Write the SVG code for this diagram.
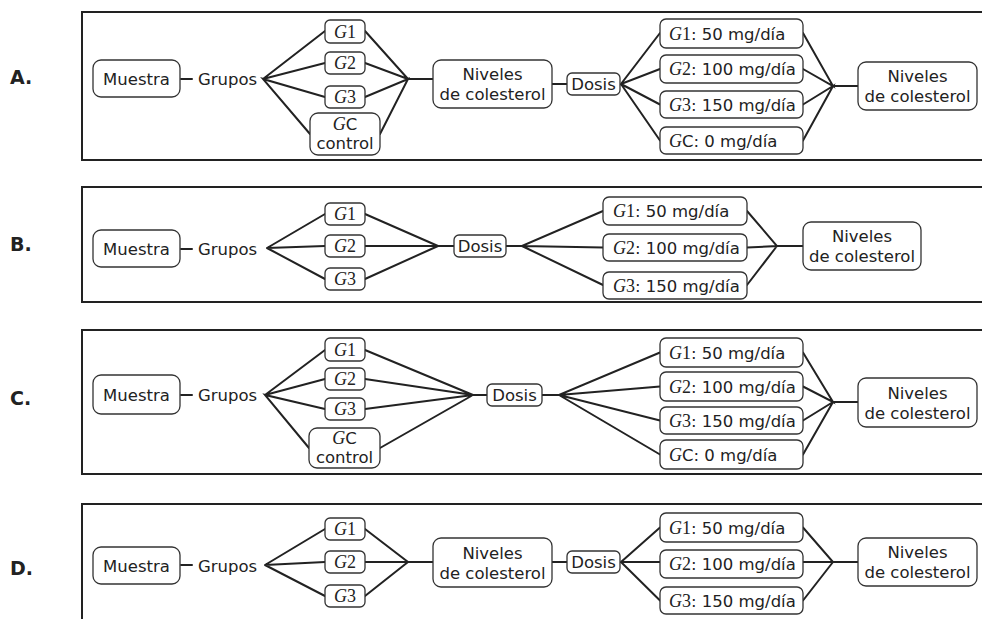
<svg xmlns="http://www.w3.org/2000/svg" width="982" height="619" viewBox="0 0 982 619">
<style>
.frame{fill:none;stroke:#222;stroke-width:2}
.box{fill:#fff;stroke:#333;stroke-width:1.3}
.ln{fill:none;stroke:#222;stroke-width:2;stroke-linecap:round}
.t{font-family:"DejaVu Sans",Verdana,sans-serif;font-size:16.5px;fill:#222}
.c{text-anchor:middle}
.gi{font-family:"Liberation Serif","Times New Roman",serif;font-style:italic;font-size:18px}
.sr{font-family:"Liberation Serif","Times New Roman",serif;font-size:18px}
.lbl{font-family:"DejaVu Sans",Verdana,sans-serif;font-weight:bold;font-size:19px;fill:#222}
</style>
<rect width="982" height="619" fill="#fff"/>
<g id="frames">
<path class="frame" d="M984 12H82V160H984"/>
<path class="frame" d="M984 187H82V302H984"/>
<path class="frame" d="M984 330H82V474H984"/>
<path class="frame" d="M984 504H82V622"/>
</g>
<g id="labels">
<text class="lbl" x="10" y="84">A.</text>
<text class="lbl" x="10" y="251">B.</text>
<text class="lbl" x="10" y="405">C.</text>
<text class="lbl" x="10" y="575">D.</text>
</g>
<g id="connectors">
<!-- A -->
<path class="ln" d="M181 79H192"/>
<path class="ln" d="M325 31L263 79L325 63M325 97L263 79L310 134"/>
<path class="ln" d="M365 31L408 79L365 63M365 97L408 79L380 134M408 79H433"/>
<path class="ln" d="M552 84H567"/>
<path class="ln" d="M660 33L621 84L660 69M660 104.5L621 84L660 140.5"/>
<path class="ln" d="M803 33L833 86L803 69M803 104.5L833 86L803 140.5M833 86H858"/>
<!-- B -->
<path class="ln" d="M181 249H192"/>
<path class="ln" d="M325 214L267 248L325 246M267 248L325 279"/>
<path class="ln" d="M365 214L438 246L365 246M438 246L365 279M438 246H454"/>
<path class="ln" d="M506 246H522L603 211M522 246L603 247.5M522 246L603 285"/>
<path class="ln" d="M747 211L777 246L747 247.5M777 246L747 285M777 246H803"/>
<!-- C -->
<path class="ln" d="M181 395H192"/>
<path class="ln" d="M325 350L265 395L325 379M325 409L265 395L309 448"/>
<path class="ln" d="M365 350L473 395L365 379M365 409L473 395L380 448M473 395H487"/>
<path class="ln" d="M542 395H559L660 352.5M559 395L660 386.5M559 395L660 420.5M559 395L660 454.5"/>
<path class="ln" d="M803 352.5L833 402L803 386.5M803 420.5L833 402L803 454.5M833 402H858"/>
<!-- D -->
<path class="ln" d="M181 565H192"/>
<path class="ln" d="M325 529L265 565L325 562M265 565L325 596"/>
<path class="ln" d="M365 529L408 562L365 562M408 562L365 596M408 562H433"/>
<path class="ln" d="M552 562H567"/>
<path class="ln" d="M660 527.5L621 562L660 562M621 562L660 600.5"/>
<path class="ln" d="M803 527.5L833 562L803 562M833 562L803 600.5M833 562H858"/>
</g>
<!-- Panel A nodes -->
<g id="a-muestra"><rect class="box" x="93" y="60" width="87" height="37" rx="8"/><text class="t c" x="136.5" y="85">Muestra</text></g>
<g id="a-grupos"><text class="t" x="198" y="85">Grupos</text></g>
<g id="a-g1"><rect class="box" x="325" y="20" width="40" height="23" rx="5"/><text class="t c" x="345" y="37.5"><tspan class="gi">G</tspan><tspan class="sr">1</tspan></text></g>
<g id="a-g2"><rect class="box" x="325" y="52" width="40" height="22" rx="5"/><text class="t c" x="345" y="69"><tspan class="gi">G</tspan><tspan class="sr">2</tspan></text></g>
<g id="a-g3"><rect class="box" x="325" y="86" width="40" height="22" rx="5"/><text class="t c" x="345" y="103"><tspan class="gi">G</tspan><tspan class="sr">3</tspan></text></g>
<g id="a-gc"><rect class="box" x="310" y="113" width="70" height="42" rx="8"/><text class="t c" x="345" y="130"><tspan class="gi">G</tspan>C</text><text class="t c" x="345" y="149">control</text></g>
<g id="a-niveles1"><rect class="box" x="433" y="60" width="119" height="48" rx="8"/><text class="t c" x="492.5" y="80">Niveles</text><text class="t c" x="492.5" y="100">de colesterol</text></g>
<g id="a-dosis"><rect class="box" x="567" y="73" width="53" height="22" rx="5"/><text class="t c" x="593.5" y="90">Dosis</text></g>
<g id="a-d1"><rect class="box" x="660" y="19" width="143" height="29" rx="6"/><text class="t" x="669" y="39.5"><tspan class="gi">G</tspan><tspan class="sr">1</tspan>: 50 mg/día</text></g>
<g id="a-d2"><rect class="box" x="660" y="55" width="143" height="28" rx="6"/><text class="t" x="669" y="75"><tspan class="gi">G</tspan><tspan class="sr">2</tspan>: 100 mg/día</text></g>
<g id="a-d3"><rect class="box" x="660" y="91" width="143" height="27" rx="6"/><text class="t" x="669" y="110.5"><tspan class="gi">G</tspan><tspan class="sr">3</tspan>: 150 mg/día</text></g>
<g id="a-dc"><rect class="box" x="660" y="127" width="143" height="27" rx="6"/><text class="t" x="669" y="146.5"><tspan class="gi">G</tspan>C: 0 mg/día</text></g>
<g id="a-niveles2"><rect class="box" x="858" y="62" width="119" height="48" rx="8"/><text class="t c" x="917.5" y="82">Niveles</text><text class="t c" x="917.5" y="102">de colesterol</text></g>
<!-- Panel B nodes -->
<g id="b-muestra"><rect class="box" x="93" y="230" width="87" height="37" rx="8"/><text class="t c" x="136.5" y="255">Muestra</text></g>
<g id="b-grupos"><text class="t" x="198" y="255">Grupos</text></g>
<g id="b-g1"><rect class="box" x="325" y="203" width="40" height="22" rx="5"/><text class="t c" x="345" y="220"><tspan class="gi">G</tspan><tspan class="sr">1</tspan></text></g>
<g id="b-g2"><rect class="box" x="325" y="235" width="40" height="22" rx="5"/><text class="t c" x="345" y="252"><tspan class="gi">G</tspan><tspan class="sr">2</tspan></text></g>
<g id="b-g3"><rect class="box" x="325" y="268" width="40" height="22" rx="5"/><text class="t c" x="345" y="285"><tspan class="gi">G</tspan><tspan class="sr">3</tspan></text></g>
<g id="b-dosis"><rect class="box" x="454" y="235" width="52" height="22" rx="5"/><text class="t c" x="480" y="252">Dosis</text></g>
<g id="b-d1"><rect class="box" x="603" y="197" width="144" height="28" rx="6"/><text class="t" x="613" y="217"><tspan class="gi">G</tspan><tspan class="sr">1</tspan>: 50 mg/día</text></g>
<g id="b-d2"><rect class="box" x="603" y="234" width="144" height="27" rx="6"/><text class="t" x="613" y="253.5"><tspan class="gi">G</tspan><tspan class="sr">2</tspan>: 100 mg/día</text></g>
<g id="b-d3"><rect class="box" x="603" y="272" width="144" height="27" rx="6"/><text class="t" x="613" y="291.5"><tspan class="gi">G</tspan><tspan class="sr">3</tspan>: 150 mg/día</text></g>
<g id="b-niveles"><rect class="box" x="803" y="222" width="118" height="48" rx="8"/><text class="t c" x="862" y="242">Niveles</text><text class="t c" x="862" y="262">de colesterol</text></g>
<!-- Panel C nodes -->
<g id="c-muestra"><rect class="box" x="93" y="375" width="87" height="39" rx="8"/><text class="t c" x="136.5" y="401">Muestra</text></g>
<g id="c-grupos"><text class="t" x="198" y="401">Grupos</text></g>
<g id="c-g1"><rect class="box" x="325" y="338" width="40" height="23" rx="5"/><text class="t c" x="345" y="355.5"><tspan class="gi">G</tspan><tspan class="sr">1</tspan></text></g>
<g id="c-g2"><rect class="box" x="325" y="368" width="40" height="22" rx="5"/><text class="t c" x="345" y="385"><tspan class="gi">G</tspan><tspan class="sr">2</tspan></text></g>
<g id="c-g3"><rect class="box" x="325" y="398" width="40" height="22" rx="5"/><text class="t c" x="345" y="415"><tspan class="gi">G</tspan><tspan class="sr">3</tspan></text></g>
<g id="c-gc"><rect class="box" x="309" y="428" width="71" height="40" rx="8"/><text class="t c" x="344.5" y="444"><tspan class="gi">G</tspan>C</text><text class="t c" x="344.5" y="463">control</text></g>
<g id="c-dosis"><rect class="box" x="487" y="384" width="55" height="22" rx="5"/><text class="t c" x="514.5" y="401">Dosis</text></g>
<g id="c-d1"><rect class="box" x="660" y="338" width="143" height="29" rx="6"/><text class="t" x="669" y="358.5"><tspan class="gi">G</tspan><tspan class="sr">1</tspan>: 50 mg/día</text></g>
<g id="c-d2"><rect class="box" x="660" y="372" width="143" height="29" rx="6"/><text class="t" x="669" y="392.5"><tspan class="gi">G</tspan><tspan class="sr">2</tspan>: 100 mg/día</text></g>
<g id="c-d3"><rect class="box" x="660" y="407" width="143" height="27" rx="6"/><text class="t" x="669" y="426.5"><tspan class="gi">G</tspan><tspan class="sr">3</tspan>: 150 mg/día</text></g>
<g id="c-dc"><rect class="box" x="660" y="440" width="143" height="29" rx="6"/><text class="t" x="669" y="460.5"><tspan class="gi">G</tspan>C: 0 mg/día</text></g>
<g id="c-niveles"><rect class="box" x="858" y="378" width="119" height="49" rx="8"/><text class="t c" x="917.5" y="398.5">Niveles</text><text class="t c" x="917.5" y="418.5">de colesterol</text></g>
<!-- Panel D nodes -->
<g id="d-muestra"><rect class="box" x="93" y="547" width="87" height="37" rx="8"/><text class="t c" x="136.5" y="572">Muestra</text></g>
<g id="d-grupos"><text class="t" x="198" y="572">Grupos</text></g>
<g id="d-g1"><rect class="box" x="325" y="518" width="40" height="22" rx="5"/><text class="t c" x="345" y="535"><tspan class="gi">G</tspan><tspan class="sr">1</tspan></text></g>
<g id="d-g2"><rect class="box" x="325" y="551" width="40" height="22" rx="5"/><text class="t c" x="345" y="568"><tspan class="gi">G</tspan><tspan class="sr">2</tspan></text></g>
<g id="d-g3"><rect class="box" x="325" y="585" width="40" height="22" rx="5"/><text class="t c" x="345" y="602"><tspan class="gi">G</tspan><tspan class="sr">3</tspan></text></g>
<g id="d-niveles1"><rect class="box" x="433" y="538" width="119" height="49" rx="8"/><text class="t c" x="492.5" y="558.5">Niveles</text><text class="t c" x="492.5" y="578.5">de colesterol</text></g>
<g id="d-dosis"><rect class="box" x="567" y="551" width="53" height="22" rx="5"/><text class="t c" x="593.5" y="568">Dosis</text></g>
<g id="d-d1"><rect class="box" x="660" y="513" width="143" height="29" rx="6"/><text class="t" x="669" y="533.5"><tspan class="gi">G</tspan><tspan class="sr">1</tspan>: 50 mg/día</text></g>
<g id="d-d2"><rect class="box" x="660" y="550" width="143" height="28" rx="6"/><text class="t" x="669" y="570"><tspan class="gi">G</tspan><tspan class="sr">2</tspan>: 100 mg/día</text></g>
<g id="d-d3"><rect class="box" x="660" y="587" width="143" height="27" rx="6"/><text class="t" x="669" y="606.5"><tspan class="gi">G</tspan><tspan class="sr">3</tspan>: 150 mg/día</text></g>
<g id="d-niveles2"><rect class="box" x="858" y="538" width="119" height="48" rx="8"/><text class="t c" x="917.5" y="558">Niveles</text><text class="t c" x="917.5" y="578">de colesterol</text></g>
</svg>
